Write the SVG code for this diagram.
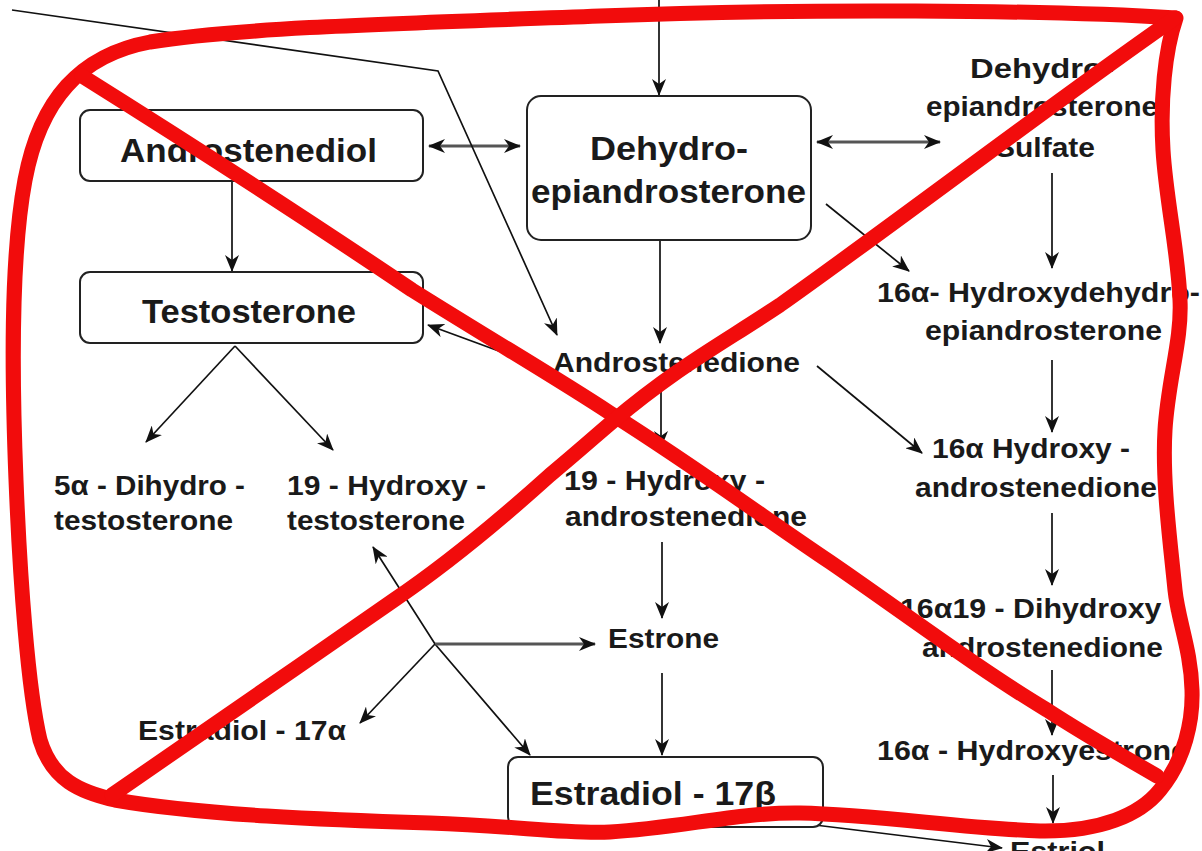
<svg xmlns="http://www.w3.org/2000/svg" width="1202" height="851" viewBox="0 0 1202 851">
<defs>
<marker id="ah" markerUnits="userSpaceOnUse" markerWidth="17" markerHeight="14" refX="16" refY="7" orient="auto-start-reverse" viewBox="0 0 17 14">
<path d="M0,0 L17,7 L0,14 L5,7 z" fill="#111"/>
</marker>
</defs>
<style>
.box{fill:#fff;stroke:#222;stroke-width:2}
.t{font-family:"Liberation Sans",Arial,sans-serif;font-weight:bold;fill:#1a1a1a}
.main{font-size:34px}
.sub{font-size:28px}
.c{fill:none;stroke:#111;stroke-width:1.7}
.g{fill:none;stroke:#555;stroke-width:3}
.red{fill:none;stroke:#f20c0c;stroke-width:15;stroke-linecap:round;stroke-linejoin:round}
</style>
<rect width="1202" height="851" fill="#fff"/>

<g id="connectors">
<path class="c" d="M659,0 L659,95" marker-end="url(#ah)"/>
<path class="g" d="M429,146 L520,146" marker-start="url(#ah)" marker-end="url(#ah)"/>
<path class="g" d="M817,142 L940,142" marker-start="url(#ah)" marker-end="url(#ah)"/>
<path class="c" d="M232,181 L232,271" marker-end="url(#ah)"/>
<path class="c" d="M12,10 L438,71 L557,335" marker-end="url(#ah)"/>
<path class="c" d="M660,241 L660,343" marker-end="url(#ah)"/>
<path class="c" d="M826,204 L909,271" marker-end="url(#ah)"/>
<path class="c" d="M1052,173 L1052,268" marker-end="url(#ah)"/>
<path class="c" d="M428,325 L545,368" marker-start="url(#ah)" marker-end="url(#ah)"/>
<path class="c" d="M235,346 L146,442" marker-end="url(#ah)"/>
<path class="c" d="M235,346 L333,450" marker-end="url(#ah)"/>
<path class="c" d="M661,383 L661,447" marker-end="url(#ah)"/>
<path class="c" d="M817,366 L922,453" marker-end="url(#ah)"/>
<path class="c" d="M1052,360 L1052,432" marker-end="url(#ah)"/>
<path class="c" d="M1052,513 L1052,585" marker-end="url(#ah)"/>
<path class="c" d="M662,542 L662,618" marker-end="url(#ah)"/>
<path class="c" d="M662,673 L662,755" marker-end="url(#ah)"/>
<path class="c" d="M373,547 L435,644 L530,755" marker-start="url(#ah)" marker-end="url(#ah)"/>
<path class="g" d="M435,644 L595,644" marker-end="url(#ah)"/>
<path class="c" d="M435,644 L360,723" marker-end="url(#ah)"/>
<path class="c" d="M1052,670 L1052,735" marker-end="url(#ah)"/>
<path class="c" d="M1053,775 L1053,823" marker-end="url(#ah)"/>
<path class="c" d="M815,825 L1002,848" marker-end="url(#ah)"/>
</g>

<g id="androstenediol">
<rect class="box" x="80" y="110" width="343" height="71" rx="10"/>
<text class="t main" x="120" y="162" textLength="257" lengthAdjust="spacingAndGlyphs">Androstenediol</text>
</g>
<g id="dhea">
<rect class="box" x="527" y="96" width="284" height="144" rx="14"/>
<text class="t main" x="590" y="160" textLength="158" lengthAdjust="spacingAndGlyphs">Dehydro-</text>
<text class="t main" x="531" y="203" textLength="275" lengthAdjust="spacingAndGlyphs">epiandrosterone</text>
</g>
<g id="dhea-sulfate">
<text class="t sub" x="970" y="78" textLength="144" lengthAdjust="spacingAndGlyphs">Dehydro-</text>
<text class="t sub" x="926" y="116" textLength="232" lengthAdjust="spacingAndGlyphs">epiandrosterone</text>
<text class="t sub" x="995" y="157" textLength="100" lengthAdjust="spacingAndGlyphs">Sulfate</text>
</g>
<g id="testosterone">
<rect class="box" x="80" y="272" width="343" height="71" rx="10"/>
<text class="t main" x="142" y="323" textLength="214" lengthAdjust="spacingAndGlyphs">Testosterone</text>
</g>
<g id="hydroxydhea">
<text class="t sub" x="877" y="302" textLength="323" lengthAdjust="spacingAndGlyphs">16α- Hydroxydehydro-</text>
<text class="t sub" x="925" y="340" textLength="237" lengthAdjust="spacingAndGlyphs">epiandrosterone</text>
</g>
<g id="androstenedione">
<text class="t sub" x="553" y="372" textLength="247" lengthAdjust="spacingAndGlyphs">Androstenedione</text>
</g>
<g id="dht">
<text class="t sub" x="54" y="495" textLength="191" lengthAdjust="spacingAndGlyphs">5α - Dihydro -</text>
<text class="t sub" x="54" y="530" textLength="179" lengthAdjust="spacingAndGlyphs">testosterone</text>
</g>
<g id="hydroxytestosterone">
<text class="t sub" x="287" y="495" textLength="199" lengthAdjust="spacingAndGlyphs">19 - Hydroxy -</text>
<text class="t sub" x="287" y="530" textLength="178" lengthAdjust="spacingAndGlyphs">testosterone</text>
</g>
<g id="hydroxyandrostenedione19">
<text class="t sub" x="564" y="490" textLength="201" lengthAdjust="spacingAndGlyphs">19 - Hydroxy -</text>
<text class="t sub" x="565" y="526" textLength="242" lengthAdjust="spacingAndGlyphs">androstenedione</text>
</g>
<g id="hydroxyandrostenedione16">
<text class="t sub" x="932" y="458" textLength="198" lengthAdjust="spacingAndGlyphs">16α Hydroxy -</text>
<text class="t sub" x="915" y="497" textLength="242" lengthAdjust="spacingAndGlyphs">androstenedione</text>
</g>
<g id="dihydroxyandrostenedione">
<text class="t sub" x="900" y="618" textLength="280" lengthAdjust="spacingAndGlyphs">16α19 - Dihydroxy -</text>
<text class="t sub" x="922" y="657" textLength="241" lengthAdjust="spacingAndGlyphs">androstenedione</text>
</g>
<g id="hydroxyestrone">
<text class="t sub" x="877" y="760" textLength="311" lengthAdjust="spacingAndGlyphs">16α - Hydroxyestrone</text>
</g>
<g id="estrone">
<text class="t sub" x="608" y="648" textLength="111" lengthAdjust="spacingAndGlyphs">Estrone</text>
</g>
<g id="estradiol17a">
<text class="t sub" x="138" y="740" textLength="208" lengthAdjust="spacingAndGlyphs">Estradiol - 17α</text>
</g>
<g id="estradiol17b">
<rect class="box" x="508" y="757" width="315" height="70" rx="10"/>
<text class="t main" x="530" y="805" textLength="246" lengthAdjust="spacingAndGlyphs">Estradiol - 17β</text>
</g>
<g id="estriol">
<text class="t sub" x="1010" y="861" textLength="95" lengthAdjust="spacingAndGlyphs">Estriol</text>
</g>

<g id="scribble">
<path class="red" d="M1176,18 C1050,10 800,8 600,16 C450,22 250,26 150,42 C80,55 40,100 25,180 C10,260 12,380 16,480 C20,580 28,690 40,740 C52,780 80,792 115,800 C200,815 330,820 430,823 C520,826 560,834 610,832 C680,828 740,812 800,813 C880,815 960,828 1040,831 C1100,832 1140,815 1160,790 C1185,760 1193,720 1192,690 C1191,650 1178,620 1175,590 C1170,540 1162,480 1165,430 C1168,380 1182,340 1180,300 C1178,250 1166,200 1163,150 C1160,100 1165,50 1176,18"/>
<path class="red" d="M82,76 C200,150 320,228 412,290 C500,345 560,380 610,413 C700,470 760,515 830,562 C900,610 980,670 1047,710 C1090,738 1130,760 1157,776"/>
<path class="red" d="M112,795 C200,735 300,665 394,600 C450,562 500,520 550,475 C580,450 600,432 612,422 C680,365 720,345 780,305 C900,220 1050,105 1175,18"/>
</g>
</svg>
